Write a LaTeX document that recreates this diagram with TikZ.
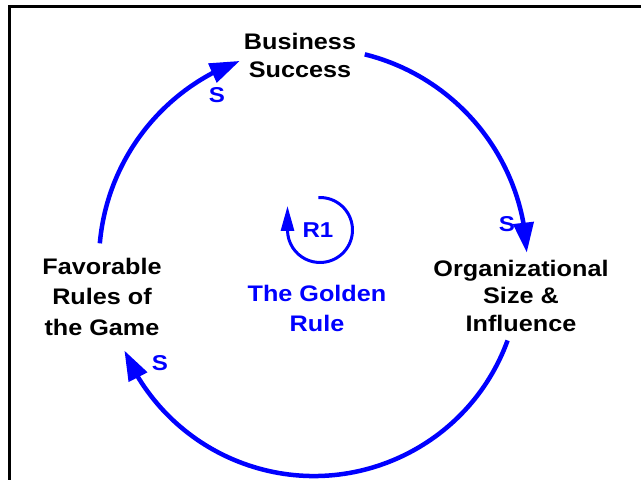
\documentclass[tikz,border=0pt]{standalone}
\usepackage{fontspec}
\setmainfont{Liberation Sans}[FakeStretch=1.12]
\usetikzlibrary{arrows.meta,bending}
\definecolor{loopblue}{RGB}{0,0,255}
\begin{document}
\begin{tikzpicture}[x=1pt,y=1pt,
  var/.style={font=\bfseries\fontsize{22.5}{27.5}\selectfont, align=center, inner sep=0pt, text=black},
  pol/.style={font=\bfseries\fontsize{21.5}{26}\selectfont, inner sep=0pt, text=loopblue},
  link/.style={draw=loopblue, line width=4.5pt, -{Triangle[length=30pt,width=20pt]}},
  rlink/.style={draw=loopblue, line width=3pt, -{Triangle[length=25pt,width=13pt]}},
]
\useasboundingbox (0,0) rectangle (641,480);
\draw[line width=3pt] (9.5,0) -- (9.5,473.5) -- (641,473.5);

% variables
\node[var] (bs) at (300,424.5) {Business\\Success};
\node[var] (org) at (521,184.5) {Organizational\\Size \&\\Influence};
\node[var] (fav) at (102,183.5) {Favorable\\[3pt]Rules of\\[3pt]the Game};

% loop label
\node[pol] (r1) at (318,250) {R1};
\node[var, text=loopblue] (gr) at (317,172) {The Golden\\[2.5pt]Rule};

% arc end points
\coordinate (lstart) at ([shift={(175:214)}]313,218);
\coordinate (rstart) at ([shift={(76:214)}]313,218);
\coordinate (bstart) at ([shift={(-20:206)}]314,210);
\coordinate (cstart) at ([shift={(93:32.5)}]320,250);

% links
\draw[link] (lstart) arc[start angle=175, end angle=110, radius=214];
\draw[link] (rstart) arc[start angle=76, end angle=2.5, radius=214];
\draw[link] (bstart) arc[start angle=-20, end angle=-157, radius=206];

% polarity labels
\node[pol] (s1) at (217,385) {S};
\node[pol] (s2) at (507,256) {S};
\node[pol] (s3) at (160,117) {S};

% R1 loop symbol
\draw[rlink] (cstart) arc[start angle=93, end angle=-180, radius=32.5] -- ++(0,24);
\end{tikzpicture}
\end{document}
